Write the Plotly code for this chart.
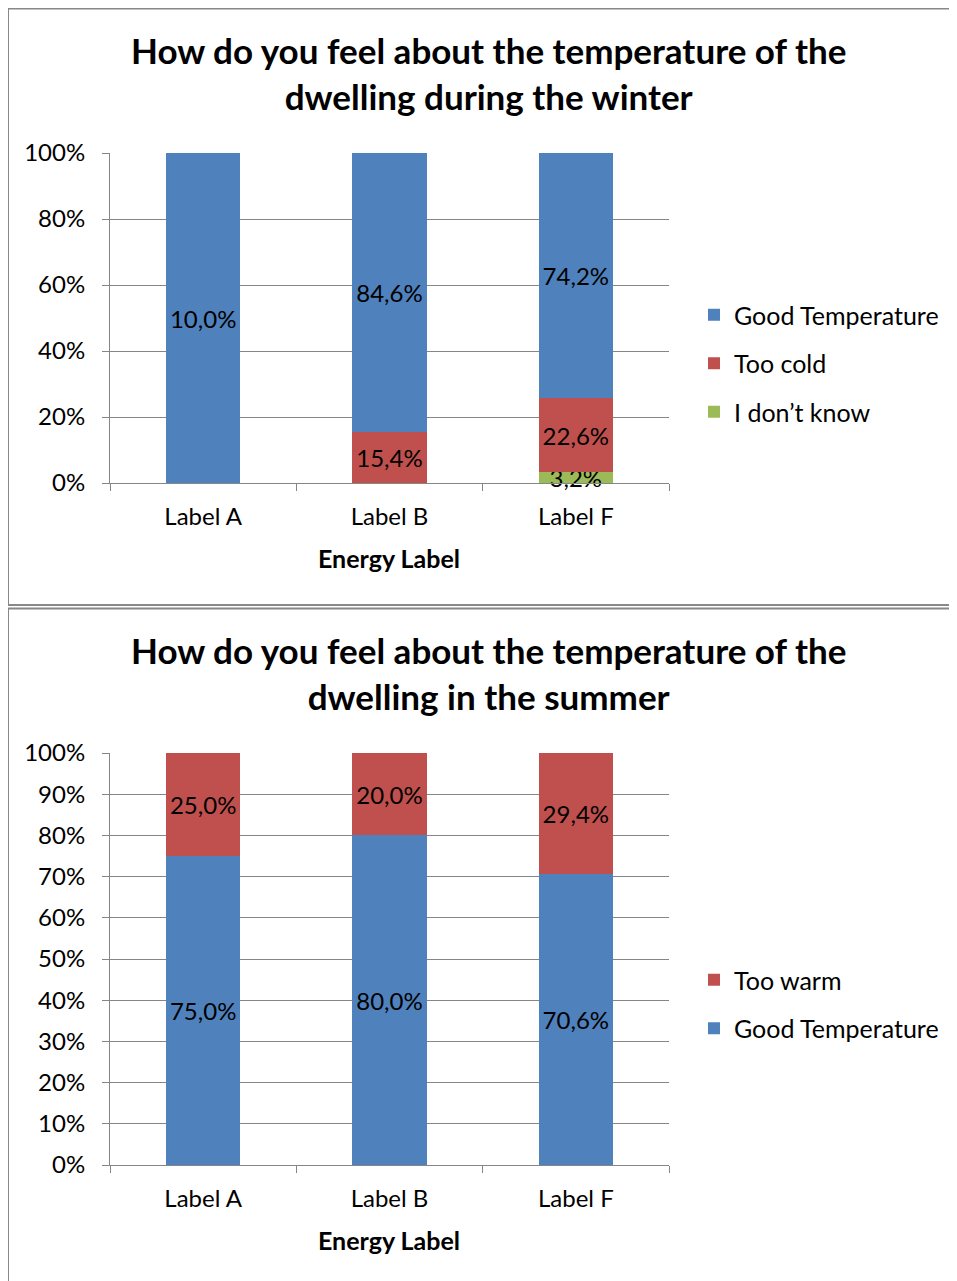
import plotly.graph_objects as go

categories = ["Label A", "Label B", "Label F"]

# Winter
winter_good = [100.0, 84.6, 74.2]
winter_good_text = ["10,0%", "84,6%", "74,2%"]
winter_cold = [0.0, 15.4, 22.6]
winter_cold_text = ["", "15,4%", "22,6%"]
winter_dontknow = [0.0, 0.0, 3.2]
winter_dontknow_text = ["", "", "3,2%"]

# Summer
summer_good = [75.0, 80.0, 70.6]
summer_good_text = ["75,0%", "80,0%", "70,6%"]
summer_warm = [25.0, 20.0, 29.4]
summer_warm_text = ["25,0%", "20,0%", "29,4%"]

BLUE = "#4F81BD"
RED = "#C0504D"
GREEN = "#9BBB59"
GRID = "#868686"
FONT = "Lato"

# page body has an 8px margin; the figure is placed at (8, 8)
OFF = 8
W, H = 957 - OFF, 1281 - OFF
def px(x):
    return (x - OFF) / W
def py(y):
    return 1 - (y - OFF) / H

fig = go.Figure()

bar_common = dict(width=0.4, textposition="inside", insidetextanchor="middle",
                  textfont=dict(size=24, color="black", family=FONT),
                  marker_line_width=0, hoverinfo="skip", cliponaxis=False)

# Winter traces (bottom to top)
fig.add_trace(go.Bar(x=categories, y=winter_dontknow, text=winter_dontknow_text, name="I don’t know",
                     marker_color=GREEN, xaxis="x", yaxis="y", legend="legend",
                     legendgroup="w3", legendrank=3, **bar_common))
fig.add_trace(go.Bar(x=categories, y=winter_cold, text=winter_cold_text, name="Too cold",
                     marker_color=RED, xaxis="x", yaxis="y", legend="legend",
                     legendgroup="w2", legendrank=2, **bar_common))
fig.add_trace(go.Bar(x=categories, y=winter_good, text=winter_good_text, name="Good Temperature",
                     marker_color=BLUE, xaxis="x", yaxis="y", legend="legend",
                     legendgroup="w1", legendrank=1, **bar_common))

# Summer traces
fig.add_trace(go.Bar(x=categories, y=summer_good, text=summer_good_text, name="Good Temperature",
                     marker_color=BLUE, xaxis="x2", yaxis="y2", legend="legend2",
                     legendgroup="s2", legendrank=2, **bar_common))
fig.add_trace(go.Bar(x=categories, y=summer_warm, text=summer_warm_text, name="Too warm",
                     marker_color=RED, xaxis="x2", yaxis="y2", legend="legend2",
                     legendgroup="s1", legendrank=1, **bar_common))

xaxis_common = dict(showgrid=False, showline=True, linecolor=GRID, linewidth=1,
                    ticks="outside", tickson="boundaries", ticklen=7, tickcolor=GRID,
                    ticklabelstandoff=12,
                    tickfont=dict(size=24, color="black", family=FONT),
                    domain=[px(110), px(669)], fixedrange=True, automargin=False)
yaxis_common = dict(showgrid=True, gridcolor=GRID, gridwidth=1, showline=True, linecolor=GRID,
                    ticks="outside", ticklen=7, tickcolor=GRID, ticksuffix="%",
                    ticklabelstandoff=12,
                    tickfont=dict(size=24, color="black", family=FONT), zeroline=False,
                    range=[0, 100], fixedrange=True, automargin=False)

legend_common = dict(font=dict(size=25, color="black", family=FONT), bgcolor="rgba(0,0,0,0)",
                     xanchor="left", yanchor="top", traceorder="grouped",
                     itemclick=False, tracegroupgap=13)

fig.update_layout(
    width=W, height=H,
    margin=dict(l=0, r=0, t=0, b=0, pad=0, autoexpand=False),
    paper_bgcolor="white", plot_bgcolor="white",
    barmode="stack",
    font=dict(family=FONT, color="black"),
    uniformtext=dict(minsize=24, mode="show"),
    xaxis=dict(anchor="y", **xaxis_common),
    yaxis=dict(anchor="x", domain=[py(483), py(153)], dtick=20, **yaxis_common),
    xaxis2=dict(anchor="y2", **xaxis_common),
    yaxis2=dict(anchor="x2", domain=[py(1165), py(753)], dtick=10, **yaxis_common),
    legend=dict(x=px(694), y=py(292), **legend_common),
    legend2=dict(x=px(694), y=py(957), **legend_common),
    showlegend=True,
)

title_font = dict(size=35, color="black", family=FONT)
annotations = [
    dict(text="<b>How do you feel about the temperature of the<br>dwelling during the winter</b>",
         x=px(488), y=py(73), xref="paper", yref="paper", showarrow=False,
         font=title_font, align="center", xanchor="center", yanchor="middle"),
    dict(text="<b>How do you feel about the temperature of the<br>dwelling in the summer</b>",
         x=px(488), y=py(673), xref="paper", yref="paper", showarrow=False,
         font=title_font, align="center", xanchor="center", yanchor="middle"),
    dict(text="<b>Energy Label</b>", x=px(389), y=py(558), xref="paper", yref="paper",
         showarrow=False, font=dict(size=25, color="black", family=FONT), xanchor="center", yanchor="middle"),
    dict(text="<b>Energy Label</b>", x=px(389), y=py(1240), xref="paper", yref="paper",
         showarrow=False, font=dict(size=25, color="black", family=FONT), xanchor="center", yanchor="middle"),
]
fig.update_layout(annotations=annotations)

BORDER = "#888888"
shapes = [
    dict(type="rect", xref="paper", yref="paper", x0=px(8), x1=px(970), y0=py(605), y1=py(8.5),
         line=dict(color=BORDER, width=2), fillcolor="rgba(0,0,0,0)", layer="below"),
    dict(type="rect", xref="paper", yref="paper", x0=px(8), x1=px(970), y0=py(1295), y1=py(608.5),
         line=dict(color=BORDER, width=2), fillcolor="rgba(0,0,0,0)", layer="below"),
]
fig.update_layout(shapes=shapes)

fig.write_html("out.html")
